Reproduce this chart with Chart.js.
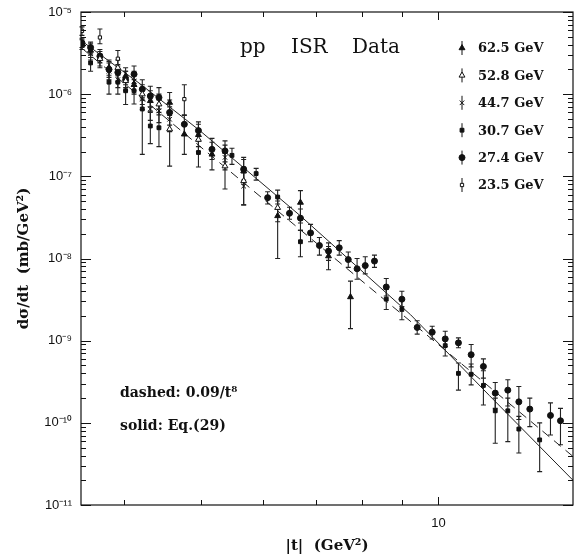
<!DOCTYPE html>
<html>
<head>
<meta charset="utf-8">
<script src="https://cdn.jsdelivr.net/npm/chart.js@4.4.1/dist/chart.umd.min.js"></script>
<style>
  html, body { margin: 0; padding: 0; background: #fff; }
  #wrap { width: 584px; height: 559px; }
</style>
</head>
<body>
<div id="wrap"><canvas id="isrChart" width="584" height="559"></canvas></div>
<script>
// each row: [ |t| (GeV^2), dsigma/dt (mb/GeV^2), error bar low, error bar high ]
const s625 = [
  [3.54, 4.0e-6, 3.5e-6, 4.6e-6], [3.63, 3.4e-6, 2.8e-6, 4.1e-6], [3.83, 2.1e-6, 1.7e-6, 2.6e-6],
  [4.02, 1.67e-6, 1.3e-6, 2.1e-6], [4.12, 1.3e-6, 1.0e-6, 1.7e-6], [4.32, 8.3e-7, 6.2e-7, 1.1e-6],
  [4.57, 7.9e-7, 5.8e-7, 1.05e-6], [4.77, 3.25e-7, 1.85e-7, 4.4e-7], [4.97, 3.2e-7, 2.3e-7, 4.3e-7],
  [5.17, 1.85e-7, 1.2e-7, 2.6e-7], [5.67, 1.16e-7, 8e-8, 1.6e-7], [6.26, 3.3e-8, 1.0e-8, 5.0e-8],
  [6.69, 4.8e-8, 2.7e-8, 6.7e-8], [7.26, 1.07e-8, 7.3e-9, 1.4e-8], [7.74, 3.4e-9, 1.4e-9, 5.3e-9]
];
const s528 = [
  [3.73, 2.7e-6, 2.2e-6, 3.3e-6], [3.93, 2.1e-6, 1.7e-6, 2.6e-6], [4.02, 1.45e-6, 1.1e-6, 1.9e-6],
  [4.22, 1.0e-6, 7.5e-7, 1.3e-6], [4.43, 7.55e-7, 5.6e-7, 1.0e-6], [4.57, 3.75e-7, 1.33e-7, 5.5e-7],
  [4.97, 2.8e-7, 2.0e-7, 3.8e-7], [5.37, 1.33e-7, 7e-8, 1.9e-7], [5.67, 8.8e-8, 4.5e-8, 1.3e-7],
  [6.26, 4.15e-8, 2.8e-8, 5.6e-8]
];
const s447 = [
  [3.63, 3.1e-6, 2.6e-6, 3.7e-6], [3.73, 2.55e-6, 2.1e-6, 3.1e-6], [3.83, 1.9e-6, 1.5e-6, 2.4e-6],
  [3.93, 1.5e-6, 1.2e-6, 1.9e-6], [4.12, 1.45e-6, 1.1e-6, 1.9e-6], [4.22, 8.7e-7, 6.5e-7, 1.15e-6],
  [4.32, 6.6e-7, 4.8e-7, 8.8e-7], [4.43, 6.25e-7, 4.5e-7, 8.5e-7], [4.57, 4.95e-7, 3.5e-7, 7e-7],
  [5.37, 1.7e-7, 1.2e-7, 2.4e-7], [5.67, 7.6e-8, 4.5e-8, 1.1e-7]
];
const s307 = [
  [3.63, 2.4e-6, 1.9e-6, 3.0e-6], [3.83, 1.4e-6, 1.0e-6, 1.9e-6], [3.93, 1.4e-6, 1.0e-6, 1.9e-6],
  [4.02, 1.1e-6, 7.5e-7, 1.5e-6], [4.12, 1.1e-6, 7.6e-7, 1.5e-6], [4.22, 6.6e-7, 1.85e-7, 9e-7],
  [4.32, 4.1e-7, 2.5e-7, 6e-7], [4.43, 3.9e-7, 2.3e-7, 6e-7], [4.97, 1.95e-7, 1.3e-7, 2.8e-7],
  [5.48, 1.8e-7, 1.4e-7, 2.2e-7], [5.88, 1.08e-7, 9e-8, 1.25e-7], [6.26, 5.6e-8, 4.6e-8, 6.8e-8],
  [6.69, 1.6e-8, 1.05e-8, 2.2e-8], [8.59, 3.2e-9, 2.4e-9, 4.2e-9], [8.99, 2.4e-9, 1.8e-9, 3.1e-9],
  [10.2, 8.7e-10, 6.5e-10, 1.1e-9], [10.6, 4.0e-10, 2.5e-10, 5.35e-10], [11.0, 3.9e-10, 2.9e-10, 5.2e-10],
  [11.4, 2.85e-10, 1.65e-10, 4.3e-10], [11.8, 1.4e-10, 5.65e-11, 2.0e-10], [12.24, 1.4e-10, 5.9e-11, 2.0e-10],
  [12.64, 8.4e-11, 4.3e-11, 1.2e-10], [13.43, 6.2e-11, 2.55e-11, 1.0e-10]
];
const s274 = [
  [3.54, 4.2e-6, 3.7e-6, 4.8e-6], [3.63, 3.7e-6, 3.1e-6, 4.3e-6], [3.73, 2.9e-6, 2.4e-6, 3.5e-6],
  [3.83, 2.0e-6, 1.6e-6, 2.5e-6], [3.93, 1.84e-6, 1.4e-6, 2.3e-6], [4.02, 1.5e-6, 1.2e-6, 1.9e-6],
  [4.12, 1.75e-6, 1.35e-6, 2.2e-6], [4.22, 1.15e-6, 8.5e-7, 1.5e-6], [4.32, 9.5e-7, 7e-7, 1.25e-6],
  [4.43, 9.1e-7, 6.6e-7, 1.2e-6], [4.57, 6.0e-7, 4.2e-7, 8.5e-7], [4.77, 4.3e-7, 3.2e-7, 5.6e-7],
  [4.97, 3.6e-7, 2.7e-7, 4.6e-7], [5.17, 2.13e-7, 1.6e-7, 2.9e-7], [5.37, 2.04e-7, 1.5e-7, 2.7e-7],
  [5.67, 1.22e-7, 9e-8, 1.7e-7], [6.08, 5.5e-8, 4.6e-8, 6.5e-8], [6.48, 3.55e-8, 3.0e-8, 4.2e-8],
  [6.69, 3.1e-8, 2.2e-8, 4.0e-8], [6.89, 2.05e-8, 1.6e-8, 2.6e-8], [7.07, 1.44e-8, 1.1e-8, 1.8e-8],
  [7.26, 1.23e-8, 9.5e-9, 1.55e-8], [7.49, 1.35e-8, 1.1e-8, 1.65e-8], [7.69, 9.7e-9, 7.8e-9, 1.2e-8],
  [7.89, 7.5e-9, 5.6e-9, 1.0e-8], [8.08, 8.2e-9, 6.5e-9, 1.05e-8], [8.30, 9.3e-9, 7.8e-9, 1.1e-8],
  [8.59, 4.5e-9, 3.5e-9, 5.7e-9], [8.99, 3.2e-9, 2.6e-9, 4.0e-9], [9.40, 1.45e-9, 1.2e-9, 1.75e-9],
  [9.82, 1.27e-9, 1.05e-9, 1.5e-9], [10.2, 1.05e-9, 8.5e-10, 1.3e-9], [10.6, 9.4e-10, 8.2e-10, 1.08e-9],
  [11.0, 6.75e-10, 4.8e-10, 9e-10], [11.4, 4.85e-10, 3.5e-10, 6.0e-10], [11.8, 2.3e-10, 1.5e-10, 3.1e-10],
  [12.24, 2.5e-10, 1.6e-10, 3.35e-10], [12.64, 1.8e-10, 1.1e-10, 2.77e-10], [13.05, 1.47e-10, 9e-11, 2.0e-10],
  [13.86, 1.23e-10, 7.1e-11, 1.75e-10], [14.27, 1.06e-10, 5.4e-11, 1.5e-10]
];
const s235 = [
  [3.54, 5.9e-6, 5.2e-6, 6.6e-6], [3.73, 4.9e-6, 4.1e-6, 6.2e-6], [3.93, 2.7e-6, 2.2e-6, 3.4e-6],
  [4.77, 8.7e-7, 5.5e-7, 1.3e-6]
];
const seriesNames = ['62.5 GeV', '52.8 GeV', '44.7 GeV', '30.7 GeV', '27.4 GeV', '23.5 GeV'];
const seriesData = [s625, s528, s447, s307, s274, s235];

// curves
const solidT = [3.53, 4.20, 4.99, 6.69, 9.22, 11.6, 14.8];
const solidY = [4.5e-6, 1.32e-6, 3.6e-7, 3.3e-8, 2.07e-9, 2.15e-10, 2.0e-11];
const dashedT = [3.53, 14.8];
const dashedY = [3.7e-6, 3.9e-11];

// axis ticks
const xTickVals = [4, 5, 6, 7, 8, 9, 10];
const xTickLabels = ['', '', '', '', '', '', '10'];
const yTickVals = [1e-11, 1e-10, 1e-9, 1e-8, 1e-7, 1e-6, 1e-5];
const yTickLabels = ['10\u207B\u00B9\u00B9', '10\u207B\u00B9\u2070', '10\u207B\u2079', '10\u207B\u2078', '10\u207B\u2077', '10\u207B\u2076', '10\u207B\u2075'];
const yMinorSteps = [2, 3, 4, 5, 6, 7, 8, 9];

const ink = '#111';
const markers = [
  { style: 'triangle', fill: ink, r: 3.4 },
  { style: 'triangle', fill: '#fff', r: 3.4 },
  { style: 'crossRot', fill: ink, r: 3.2 },
  { style: 'rect', fill: ink, r: 2.7 },
  { style: 'circle', fill: ink, r: 3.0 },
  { style: 'rect', fill: '#fff', r: 2.3 }
];

const datasets = seriesData.map((rows, i) => ({
  label: seriesNames[i],
  data: rows.map(r => ({ x: r[0], y: r[1] })),
  showLine: false,
  pointStyle: markers[i].style,
  pointRadius: markers[i].r,
  pointBackgroundColor: markers[i].fill,
  pointBorderColor: ink,
  pointBorderWidth: 1
}));
datasets.push({
  label: 'solid',
  data: solidT.map((t, i) => ({ x: t, y: solidY[i] })),
  showLine: true, pointRadius: 0, borderColor: '#222', borderWidth: 1
});
datasets.push({
  label: 'dashed',
  data: dashedT.map((t, i) => ({ x: t, y: dashedY[i] })),
  showLine: true, pointRadius: 0, borderColor: '#222', borderWidth: 1, borderDash: [9, 6]
});

function drawMarker(c, m, x, y) {
  c.save();
  c.fillStyle = m.fill;
  c.strokeStyle = ink;
  c.lineWidth = 1;
  if (Chart.helpers && Chart.helpers.drawPoint) {
    Chart.helpers.drawPoint(c, { pointStyle: m.style, rotation: 0, radius: m.r, borderWidth: 1 }, x, y);
  } else {
    c.beginPath(); c.arc(x, y, m.r, 0, Math.PI * 2); c.fill(); c.stroke();
  }
  c.restore();
}

// error bars, frame, inward ticks, labels and key
const decor = {
  id: 'decor',
  beforeDatasetsDraw(chart) {
    const c = chart.ctx, xs = chart.scales.x, ys = chart.scales.y;
    c.save();
    c.strokeStyle = '#222';
    c.lineWidth = 1.1;
    seriesData.forEach(rows => rows.forEach(r => {
      const px = xs.getPixelForValue(r[0]);
      const lo = ys.getPixelForValue(r[2]);
      const hi = ys.getPixelForValue(r[3]);
      c.beginPath();
      c.moveTo(px, lo); c.lineTo(px, hi);
      c.moveTo(px - 2.5, lo); c.lineTo(px + 2.5, lo);
      c.moveTo(px - 2.5, hi); c.lineTo(px + 2.5, hi);
      c.stroke();
    }));
    c.restore();
  },
  afterDraw(chart) {
    const c = chart.ctx, a = chart.chartArea, xs = chart.scales.x, ys = chart.scales.y;
    c.save();
    c.strokeStyle = ink;
    c.lineWidth = 1.2;
    c.strokeRect(a.left, a.top, a.right - a.left, a.bottom - a.top);
    c.lineWidth = 1;
    c.beginPath();
    yTickVals.forEach(v => {
      const py = Math.round(ys.getPixelForValue(v)) + 0.5;
      c.moveTo(a.left, py); c.lineTo(a.left + 10, py);
      c.moveTo(a.right, py); c.lineTo(a.right - 10, py);
      yMinorSteps.forEach(k => {
        if (v * k >= 1e-5) return;
        const q = Math.round(ys.getPixelForValue(v * k)) + 0.5;
        c.moveTo(a.left, q); c.lineTo(a.left + 5, q);
        c.moveTo(a.right, q); c.lineTo(a.right - 5, q);
      });
    });
    xTickVals.forEach((v, i) => {
      const px = Math.round(xs.getPixelForValue(v)) + 0.5;
      const len = xTickLabels[i] ? 8 : 5;
      c.moveTo(px, a.bottom); c.lineTo(px, a.bottom - len);
      c.moveTo(px, a.top); c.lineTo(px, a.top + len);
    });
    c.stroke();

    c.fillStyle = ink;
    c.textBaseline = 'middle';
    c.textAlign = 'left';
    c.font = '20px "DejaVu Serif"';
    c.fillText('pp', a.left + 159, a.top + 36);
    c.fillText('ISR', a.left + 210, a.top + 36);
    c.fillText('Data', a.left + 271, a.top + 36);

    c.font = 'bold 14px "DejaVu Serif"';
    c.fillText('dashed: 0.09/t\u2078', a.left + 39, a.top + 381);
    c.fillText('solid: Eq.(29)', a.left + 39, a.top + 414);

    c.font = 'bold 13px "DejaVu Serif"';
    seriesNames.forEach((name, i) => {
      const y = a.top + 36 + i * 27.4;
      const x = a.left + 381;
      c.beginPath();
      c.moveTo(x, y - 7); c.lineTo(x, y + 7);
      c.stroke();
      drawMarker(c, markers[i], x, y);
      c.fillStyle = ink;
      c.fillText(name, x + 16, y + 1);
    });
    c.restore();
  }
};

new Chart(document.getElementById('isrChart'), {
  type: 'scatter',
  data: { datasets: datasets },
  plugins: [decor],
  options: {
    responsive: false,
    animation: false,
    devicePixelRatio: 1,
    layout: { padding: { left: 0, right: 11, top: 12, bottom: 0 } },
    plugins: { legend: { display: false }, tooltip: { enabled: false } },
    scales: {
      x: {
        type: 'logarithmic',
        min: 3.53,
        max: 14.8,
        afterBuildTicks: s => { s.ticks = xTickVals.map(v => ({ value: v })); },
        afterFit: s => { s.height = 54; s.paddingLeft = 0; s.paddingRight = 0; },
        grid: { display: false, drawTicks: false },
        border: { display: false },
        ticks: {
          autoSkip: false, maxRotation: 0, padding: 11, color: ink,
          font: { family: '"Liberation Sans"', size: 13 },
          callback: (v, i) => xTickLabels[i]
        },
        title: {
          display: true, text: '|t|  (GeV\u00B2)', color: ink,
          font: { family: '"DejaVu Serif"', size: 15, weight: 'bold' },
          padding: { top: 0, bottom: 4 }
        }
      },
      y: {
        type: 'logarithmic',
        min: 1e-11,
        max: 1e-5,
        afterBuildTicks: s => { s.ticks = yTickVals.map(v => ({ value: v })); },
        afterFit: s => { s.width = 81; s.paddingTop = 0; s.paddingBottom = 0; },
        grid: { display: false, drawTicks: false },
        border: { display: false },
        ticks: {
          autoSkip: false, padding: 9, color: ink,
          font: { family: '"Liberation Sans"', size: 13 },
          callback: (v, i) => yTickLabels[i]
        },
        title: {
          display: true, text: 'd\u03C3/dt  (mb/GeV\u00B2)', color: ink,
          font: { family: '"DejaVu Serif"', size: 15, weight: 'bold' },
          padding: { top: 15, bottom: 0 }
        }
      }
    }
  }
});
</script>
</body>
</html>
